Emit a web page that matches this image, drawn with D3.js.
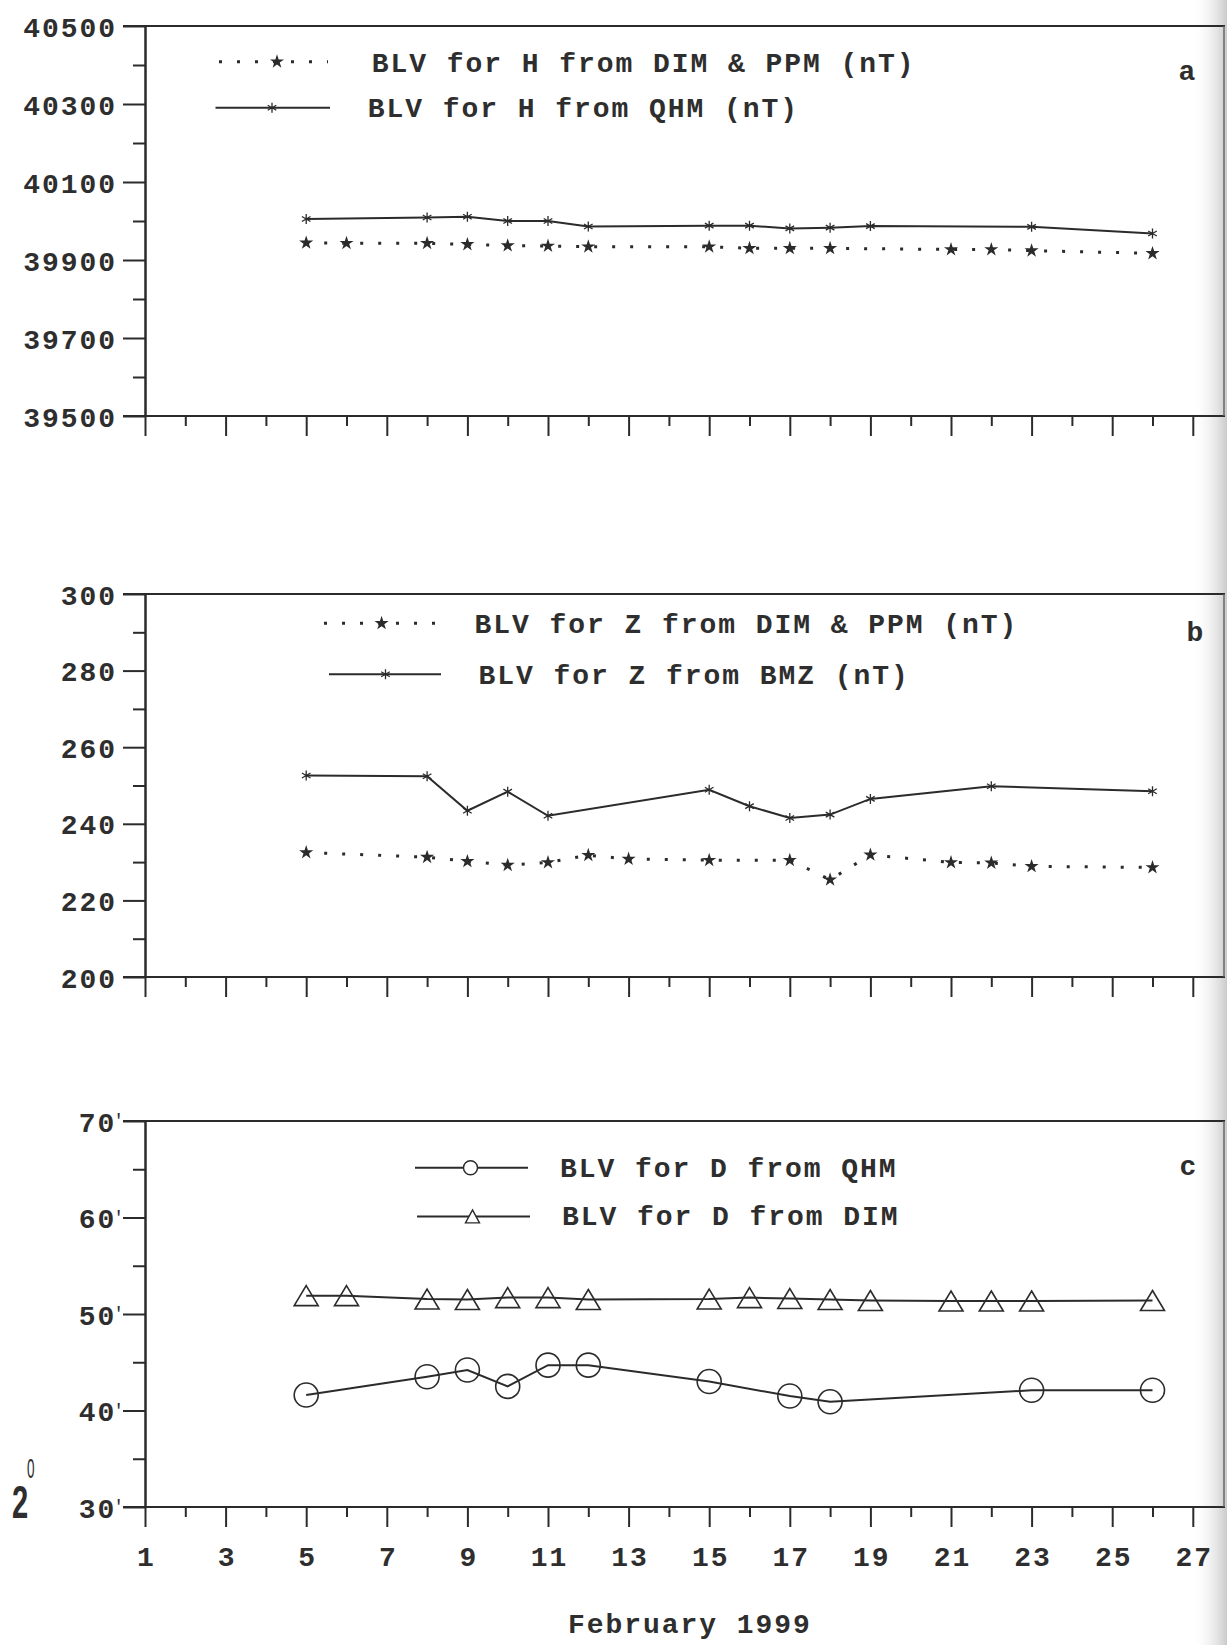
<!DOCTYPE html>
<html>
<head>
<meta charset="utf-8">
<script src="https://cdn.jsdelivr.net/npm/d3@7"></script>
<style>
body { margin: 0; background: #fff; }
text { font-family: "Liberation Mono", "Courier New", monospace; font-weight: bold; fill: #2e2e2e; }
</style>
</head>
<body>
<script>
// x axis: days of February 1999
var dayTicks = d3.range(1, 28);
var dayLabels = [1, 3, 5, 7, 9, 11, 13, 15, 17, 19, 21, 23, 25, 27];

// panel a : H baseline values (nT)
var hTicks = [39500, 39700, 39900, 40100, 40300, 40500];
var hDimDays = [5, 6, 8, 9, 10, 11, 12, 15, 16, 17, 18, 21, 22, 23, 26];
var hDimVals = [39944, 39943, 39943, 39940, 39937, 39936, 39934, 39934, 39930, 39930, 39930, 39927, 39927, 39924, 39917];
var hQhmDays = [5, 8, 9, 10, 11, 12, 15, 16, 17, 18, 19, 23, 26];
var hQhmVals = [40005, 40009, 40011, 40000, 40000, 39986, 39988, 39988, 39981, 39983, 39987, 39985, 39968];

// panel b : Z baseline values (nT)
var zTicks = [200, 220, 240, 260, 280, 300];
var zDimDays = [5, 8, 9, 10, 11, 12, 13, 15, 17, 18, 19, 21, 22, 23, 26];
var zDimVals = [232.5, 231.3, 230.2, 229.2, 229.9, 231.8, 230.8, 230.5, 230.5, 225.4, 231.9, 229.9, 229.8, 228.9, 228.6];
var zBmzDays = [5, 8, 9, 10, 11, 15, 16, 17, 18, 19, 22, 26];
var zBmzVals = [252.6, 252.4, 243.4, 248.4, 242.1, 248.9, 244.6, 241.5, 242.4, 246.5, 249.8, 248.5];

// panel c : D baseline values (minutes above 2 deg)
var dTicks = [30, 40, 50, 60, 70];
var dQhmDays = [5, 8, 9, 10, 11, 12, 15, 17, 18, 23, 26];
var dQhmVals = [41.6, 43.5, 44.2, 42.5, 44.7, 44.7, 43.0, 41.5, 40.9, 42.1, 42.1];
var dDimDays = [5, 6, 8, 9, 10, 11, 12, 15, 16, 17, 18, 19, 21, 22, 23, 26];
var dDimVals = [51.9, 51.9, 51.55, 51.5, 51.7, 51.7, 51.5, 51.55, 51.7, 51.6, 51.5, 51.4, 51.35, 51.35, 51.35, 51.4];

var legendA = ["BLV for H from DIM & PPM (nT)", "BLV for H from QHM (nT)"];
var legendB = ["BLV for Z from DIM & PPM (nT)", "BLV for Z from BMZ (nT)"];
var legendC = ["BLV for D from QHM", "BLV for D from DIM"];

var ink = "#2b2b2b";
var fs = 28;
var ls = 1.95; // letter spacing of the typewriter text
var axisX = 145;

var svg = d3.select("body").append("svg").attr("width", 1227).attr("height", 1645);

// scanned page shading at the right edge
var grad = svg.append("defs").append("linearGradient").attr("id", "edge");
grad.append("stop").attr("offset", "0%").attr("stop-color", "#fff").attr("stop-opacity", 0);
grad.append("stop").attr("offset", "100%").attr("stop-color", "#b8b8b8").attr("stop-opacity", 0.75);
svg.append("rect").attr("x", 1192).attr("y", 0).attr("width", 35).attr("height", 1645).attr("fill", "url(#edge)");

var x = d3.scaleLinear().domain([1, 27]).range([axisX, axisX + 26 * 40.3]);

function panel(top, bottom, domain, majors, step, labelX) {
    var y = d3.scaleLinear().domain(domain).range([bottom, top]);
    var g = svg.append("g");

    // frame lines
    g.append("line").attr("x1", 123).attr("x2", 1225).attr("y1", top).attr("y2", top)
        .attr("stroke", ink).attr("stroke-width", 2);
    g.append("line").attr("x1", 123).attr("x2", 1225).attr("y1", bottom).attr("y2", bottom)
        .attr("stroke", ink).attr("stroke-width", 2);
    g.append("line").attr("x1", 1224).attr("x2", 1224).attr("y1", top).attr("y2", bottom)
        .attr("stroke", "#666").attr("stroke-width", 1.5);

    // minor y ticks
    var minors = d3.range(domain[0] + step / 2, domain[1], step);
    g.append("g").attr("transform", "translate(" + axisX + ",0)")
        .call(d3.axisLeft(y).tickValues(minors).tickSize(12).tickSizeOuter(0).tickFormat(""))
        .call(function(s) { s.selectAll("line,path").attr("stroke", ink).attr("stroke-width", 2); });

    // major y ticks with labels
    var ya = g.append("g").attr("transform", "translate(" + axisX + ",0)")
        .call(d3.axisLeft(y).tickValues(majors).tickSize(22).tickSizeOuter(0).tickPadding(6).tickFormat(d3.format("d")));
    ya.selectAll("line,path").attr("stroke", ink).attr("stroke-width", 2);
    ya.selectAll("text").attr("font-size", fs).attr("letter-spacing", ls).attr("fill", "#2e2e2e")
        .attr("dy", "0.36em");
    ya.attr("font-family", null).attr("font-size", null);

    // x ticks
    var xa = g.append("g").attr("transform", "translate(0," + bottom + ")")
        .call(d3.axisBottom(x).tickValues(dayTicks.filter(function(d) { return d % 2 == 0; }))
            .tickSize(10).tickSizeOuter(0).tickFormat(""));
    xa.select(".domain").remove();
    xa.selectAll("line").attr("stroke", ink).attr("stroke-width", 2);
    var xb = g.append("g").attr("transform", "translate(0," + bottom + ")")
        .call(d3.axisBottom(x).tickValues(labelX ? dayLabels : dayTicks.filter(function(d) { return d % 2 == 1; }))
            .tickSize(20).tickSizeOuter(0).tickPadding(19).tickFormat(labelX ? d3.format("d") : ""));
    xb.select(".domain").remove();
    xb.selectAll("line").attr("stroke", ink).attr("stroke-width", 2);
    xb.selectAll("text").attr("font-size", fs).attr("letter-spacing", ls).attr("dx", ls / 2).attr("fill", "#2e2e2e");
    xb.attr("font-family", null).attr("font-size", null);

    return { g: g, y: y, ya: ya };
}

function line(p, days, vals, dash) {
    var pts = d3.zip(days, vals);
    p.g.append("path").datum(pts)
        .attr("d", d3.line().x(function(d) { return x(d[0]); }).y(function(d) { return p.y(d[1]); }))
        .attr("fill", "none").attr("stroke", ink)
        .attr("stroke-width", dash ? 3 : 2)
        .attr("stroke-dasharray", dash ? "3,15" : null);
    return pts;
}

var starSym = d3.symbol().type(d3.symbolStar).size(62);
var asterisk = "M0,-5V5M-4.3,-2.5L4.3,2.5M-4.3,2.5L4.3,-2.5";

function stars(g, pts, y) {
    g.selectAll(null).data(pts).enter().append("path")
        .attr("d", starSym)
        .attr("transform", function(d) { return "translate(" + x(d[0]) + "," + y(d[1]) + ")"; })
        .attr("fill", ink);
}

function crosses(g, pts, y) {
    g.selectAll(null).data(pts).enter().append("path")
        .attr("d", asterisk)
        .attr("transform", function(d) { return "translate(" + x(d[0]) + "," + y(d[1]) + ")"; })
        .attr("fill", "none").attr("stroke", ink).attr("stroke-width", 1.3);
}

function tri(w, h) {
    return "M0," + (-h / 2) + "L" + (w / 2) + "," + (h / 2) + "L" + (-w / 2) + "," + (h / 2) + "Z";
}

function legendRow(g, x1, x2, y, dash, tx, ty, label) {
    g.append("line").attr("x1", x1).attr("x2", x2).attr("y1", y).attr("y2", y)
        .attr("stroke", ink).attr("stroke-width", dash ? 3 : 2)
        .attr("stroke-dasharray", dash ? "3,15" : null);
    g.append("text").attr("x", tx).attr("y", ty).attr("font-size", fs).attr("letter-spacing", ls).text(label);
}

// ---- panel a
var pa = panel(26, 416, [39500, 40500], hTicks, 200, false);
var aDim = line(pa, hDimDays, hDimVals, true);
var aQhm = line(pa, hQhmDays, hQhmVals, false);
stars(pa.g, aDim, pa.y);
crosses(pa.g, aQhm, pa.y);
legendRow(pa.g, 219, 328, 61.7, true, 371.7, 71.7, legendA[0]);
pa.g.append("path").attr("d", starSym).attr("transform", "translate(277,61.7)").attr("fill", ink);
legendRow(pa.g, 215.5, 330, 107.7, false, 367.7, 116.7, legendA[1]);
pa.g.append("path").attr("d", asterisk).attr("transform", "translate(272,107.7)")
    .attr("fill", "none").attr("stroke", ink).attr("stroke-width", 1.3);
pa.g.append("text").attr("x", 1187).attr("y", 80).attr("font-size", fs).attr("text-anchor", "middle").text("a");

// ---- panel b
var pb = panel(594, 977, [200, 300], zTicks, 20, false);
var bDim = line(pb, zDimDays, zDimVals, true);
var bBmz = line(pb, zBmzDays, zBmzVals, false);
stars(pb.g, bDim, pb.y);
crosses(pb.g, bBmz, pb.y);
legendRow(pb.g, 324, 437, 623.3, true, 474.5, 632.5, legendB[0]);
pb.g.append("path").attr("d", starSym).attr("transform", "translate(381.6,623.3)").attr("fill", ink);
legendRow(pb.g, 329, 441, 674.3, false, 478.5, 683.5, legendB[1]);
pb.g.append("path").attr("d", asterisk).attr("transform", "translate(385.5,674.3)")
    .attr("fill", "none").attr("stroke", ink).attr("stroke-width", 1.3);
pb.g.append("text").attr("x", 1195).attr("y", 641).attr("font-size", fs).attr("text-anchor", "middle").text("b");

// ---- panel c : minute labels carry a prime
var pc = panel(1121, 1507, [30, 70], dTicks, 10, true);
pc.ya.selectAll(".tick text").attr("x", -21)
    .append("tspan").attr("dx", -3).attr("dy", "-0.3em").attr("font-size", 18)
    .attr("font-weight", "normal").attr("letter-spacing", 0).text("'");
var cQhm = line(pc, dQhmDays, dQhmVals, false);
var cDim = line(pc, dDimDays, dDimVals, false);
pc.g.selectAll(null).data(cQhm).enter().append("circle")
    .attr("cx", function(d) { return x(d[0]); }).attr("cy", function(d) { return pc.y(d[1]); })
    .attr("r", 12).attr("fill", "none").attr("stroke", ink).attr("stroke-width", 1.6);
pc.g.selectAll(null).data(cDim).enter().append("path")
    .attr("d", tri(24, 20))
    .attr("transform", function(d) { return "translate(" + x(d[0]) + "," + pc.y(d[1]) + ")"; })
    .attr("fill", "none").attr("stroke", ink).attr("stroke-width", 1.6);
legendRow(pc.g, 415, 528, 1167.8, false, 560, 1176.5, legendC[0]);
pc.g.append("circle").attr("cx", 470.5).attr("cy", 1167.8).attr("r", 7)
    .attr("fill", "#fff").attr("stroke", ink).attr("stroke-width", 1.4);
legendRow(pc.g, 417, 530, 1216.4, false, 562, 1225, legendC[1]);
pc.g.append("path").attr("d", tri(14, 13)).attr("transform", "translate(472.5,1216.4)")
    .attr("fill", "#fff").attr("stroke", ink).attr("stroke-width", 1.4);
pc.g.append("text").attr("x", 1188).attr("y", 1175).attr("font-size", fs).attr("text-anchor", "middle").text("c");

// degree part of the D scale
svg.append("text").attr("transform", "translate(12,1518) scale(0.62,1)")
    .style("font-family", "'Liberation Sans', Arial, sans-serif")
    .attr("font-size", 47).text("2");
svg.append("text").attr("transform", "translate(27,1478) scale(0.5,1)")
    .style("font-family", "'Liberation Sans', Arial, sans-serif").style("font-weight", "normal")
    .attr("font-size", 27).text("0");

svg.append("text").attr("x", 689 + ls / 2).attr("y", 1633).attr("text-anchor", "middle")
    .attr("font-size", fs).attr("letter-spacing", ls).text("February 1999");
</script>
</body>
</html>
